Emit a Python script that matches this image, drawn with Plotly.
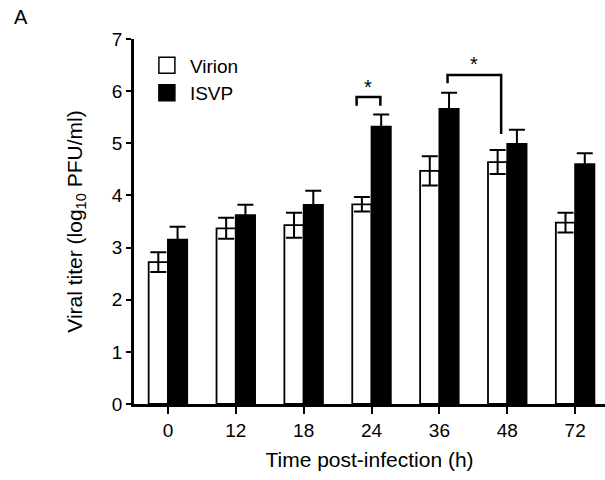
import plotly.graph_objects as go

categories = ["0", "12", "18", "24", "36", "48", "72"]
virion = [2.72, 3.37, 3.43, 3.83, 4.47, 4.64, 3.48]
virion_err = [0.19, 0.20, 0.24, 0.14, 0.28, 0.23, 0.19]
isvp = [3.15, 3.62, 3.82, 5.32, 5.66, 4.99, 4.60]
isvp_err = [0.25, 0.20, 0.27, 0.23, 0.31, 0.27, 0.21]

# significance brackets: (x_left, x_right, y_top, y_left_end, y_right_end, star_x, star_y)
brackets = [
    (2.78, 3.13, 5.89, 5.72, 5.72, 2.95, 6.08),
    (4.12, 4.91, 6.31, 6.15, 5.18, 4.51, 6.52),
]

FONT = "Liberation Sans, Arial, sans-serif"
xi = list(range(len(categories)))

fig = go.Figure()
fig.add_trace(go.Bar(
    x=xi, y=virion, name="Virion", showlegend=False,
    marker=dict(color="white", line=dict(color="black", width=1.8)),
    error_y=dict(type="data", array=virion_err, color="black", thickness=2, width=8),
))
fig.add_trace(go.Bar(
    x=xi, y=isvp, name="ISVP", showlegend=False,
    marker=dict(color="black", line=dict(color="black", width=1.8)),
    error_y=dict(type="data", array=isvp_err, color="black", thickness=2, width=8),
))
# legend entries
fig.add_trace(go.Scatter(x=[None], y=[None], mode="markers", name="Virion",
                         marker=dict(symbol="square", size=16, color="white",
                                     line=dict(color="black", width=1.5))))
fig.add_trace(go.Scatter(x=[None], y=[None], mode="markers", name="ISVP",
                         marker=dict(symbol="square", size=16, color="black",
                                     line=dict(color="black", width=1.5))))

shapes = []
annotations = []
for (xl, xr, yt, yl, yr, sx, sy) in brackets:
    shapes.append(dict(
        type="path", xref="x", yref="y",
        path=f"M {xl},{yl} L {xl},{yt} L {xr},{yt} L {xr},{yr}",
        line=dict(color="black", width=2.5),
    ))
    annotations.append(dict(x=sx, y=sy, xref="x", yref="y", text="*",
                            showarrow=False, font=dict(size=20, color="black", family=FONT)))

annotations.append(dict(x=(12 - 134) / 471, y=(404 - 17) / 365, xref="paper", yref="paper",
                        text="A", showarrow=False, xanchor="left", yanchor="middle",
                        font=dict(size=20, color="black", family=FONT)))

fig.update_layout(
    width=605, height=480,
    margin=dict(l=134, r=0, t=39, b=76),
    plot_bgcolor="white", paper_bgcolor="white",
    barmode="group", bargap=0.432, bargroupgap=0,
    font=dict(family=FONT, size=19, color="black"),
    showlegend=True,
    legend=dict(x=0.021, y=0.98, xanchor="left", yanchor="top", itemwidth=36,
                bgcolor="rgba(0,0,0,0)", font=dict(size=19), tracegroupgap=0),
    shapes=shapes,
    annotations=annotations,
)

fig.update_xaxes(
    range=[-0.5, 6.44], tickmode="array", tickvals=xi, ticktext=categories,
    ticks="outside", tickson="boundaries", ticklen=7, tickwidth=2, tickcolor="black",
    showline=True, linecolor="black", linewidth=2.5, showgrid=False, zeroline=False,
    title=dict(text="Time post-infection (h)", standoff=13, font=dict(size=21)),
    tickfont=dict(size=19),
)
fig.update_yaxes(
    range=[0, 7], dtick=1, ticks="outside", ticklen=5, tickwidth=2, tickcolor="black",
    showline=True, linecolor="black", linewidth=2.5, showgrid=False, zeroline=False,
    title=dict(text="Viral titer (log<sub>10</sub> PFU/ml)", standoff=24, font=dict(size=21)),
    tickfont=dict(size=19),
)

fig.write_html("out.html")
